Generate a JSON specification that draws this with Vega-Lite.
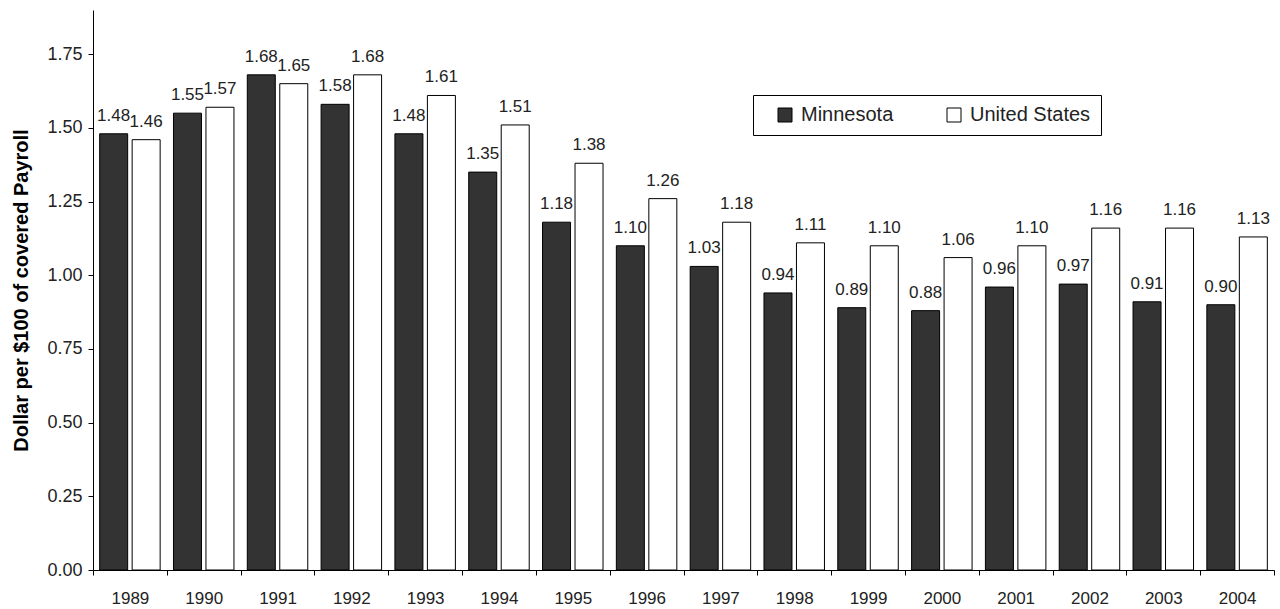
{
  "$schema": "https://vega.github.io/schema/vega-lite/v6.json",
  "width": 1181,
  "height": 560,
  "autosize": {"type": "none"},
  "padding": {"left": 93, "top": 10, "right": 6, "bottom": 39},
  "background": "white",
  "config": {
    "view": {"stroke": null},
    "font": "Liberation Sans",
    "axis": {"domainColor": "black", "tickColor": "black", "labelColor": "#222", "grid": false, "labelFont": "Liberation Sans", "titleFont": "Liberation Sans"}
  },
  "data": {
    "values": [
      {"year": "1989", "region": "Minnesota", "value": 1.48},
      {"year": "1989", "region": "United States", "value": 1.46},
      {"year": "1990", "region": "Minnesota", "value": 1.55},
      {"year": "1990", "region": "United States", "value": 1.57},
      {"year": "1991", "region": "Minnesota", "value": 1.68},
      {"year": "1991", "region": "United States", "value": 1.65},
      {"year": "1992", "region": "Minnesota", "value": 1.58},
      {"year": "1992", "region": "United States", "value": 1.68},
      {"year": "1993", "region": "Minnesota", "value": 1.48},
      {"year": "1993", "region": "United States", "value": 1.61},
      {"year": "1994", "region": "Minnesota", "value": 1.35},
      {"year": "1994", "region": "United States", "value": 1.51},
      {"year": "1995", "region": "Minnesota", "value": 1.18},
      {"year": "1995", "region": "United States", "value": 1.38},
      {"year": "1996", "region": "Minnesota", "value": 1.10},
      {"year": "1996", "region": "United States", "value": 1.26},
      {"year": "1997", "region": "Minnesota", "value": 1.03},
      {"year": "1997", "region": "United States", "value": 1.18},
      {"year": "1998", "region": "Minnesota", "value": 0.94},
      {"year": "1998", "region": "United States", "value": 1.11},
      {"year": "1999", "region": "Minnesota", "value": 0.89},
      {"year": "1999", "region": "United States", "value": 1.10},
      {"year": "2000", "region": "Minnesota", "value": 0.88},
      {"year": "2000", "region": "United States", "value": 1.06},
      {"year": "2001", "region": "Minnesota", "value": 0.96},
      {"year": "2001", "region": "United States", "value": 1.10},
      {"year": "2002", "region": "Minnesota", "value": 0.97},
      {"year": "2002", "region": "United States", "value": 1.16},
      {"year": "2003", "region": "Minnesota", "value": 0.91},
      {"year": "2003", "region": "United States", "value": 1.16},
      {"year": "2004", "region": "Minnesota", "value": 0.90},
      {"year": "2004", "region": "United States", "value": 1.13}
    ]
  },
  "encoding": {
    "x": {
      "field": "year", "type": "nominal",
      "scale": {"paddingInner": 0, "paddingOuter": 0},
      "axis": {"title": null, "labelAngle": 0, "labelFontSize": 17, "tickBand": "extent", "tickSize": 5, "labelPadding": 15, "domainWidth": 1, "tickWidth": 1}
    },
    "xOffset": {"field": "region", "type": "nominal", "scale": {"paddingInner": 0.138, "paddingOuter": 0.205}},
    "y": {
      "field": "value", "type": "quantitative",
      "scale": {"domain": [0, 1.9], "nice": false},
      "axis": {"title": "Dollar per $100 of covered Payroll", "titleFontSize": 20, "titleFontWeight": "bold", "titleColor": "black", "values": [0, 0.25, 0.5, 0.75, 1, 1.25, 1.5, 1.75], "format": ".2f", "labelFontSize": 18, "tickSize": 5, "labelPadding": 6, "titlePadding": 15}
    }
  },
  "layer": [
    {
      "mark": {"type": "bar", "stroke": "black", "strokeWidth": 1},
      "encoding": {
        "fill": {
          "field": "region", "type": "nominal",
          "scale": {"domain": ["Minnesota", "United States"], "range": ["#333333", "#ffffff"]},
          "legend": {
            "title": null, "orient": "none", "direction": "horizontal",
            "legendX": 660, "legendY": 85,
            "strokeColor": "black", "fillColor": "white", "padding": 10,
            "symbolType": "square", "symbolSize": 196, "symbolStrokeColor": "black", "symbolStrokeWidth": 1,
            "symbolOffset": 12, "labelFontSize": 20, "labelColor": "#222", "labelOffset": 6, "columnPadding": 38, "labelFont": "Liberation Sans"
          }
        }
      }
    },
    {
      "mark": {"type": "text", "baseline": "alphabetic", "dy": -13, "fontSize": 17, "color": "#222"},
      "encoding": {"text": {"field": "value", "type": "quantitative", "format": ".2f"}}
    }
  ]
}
